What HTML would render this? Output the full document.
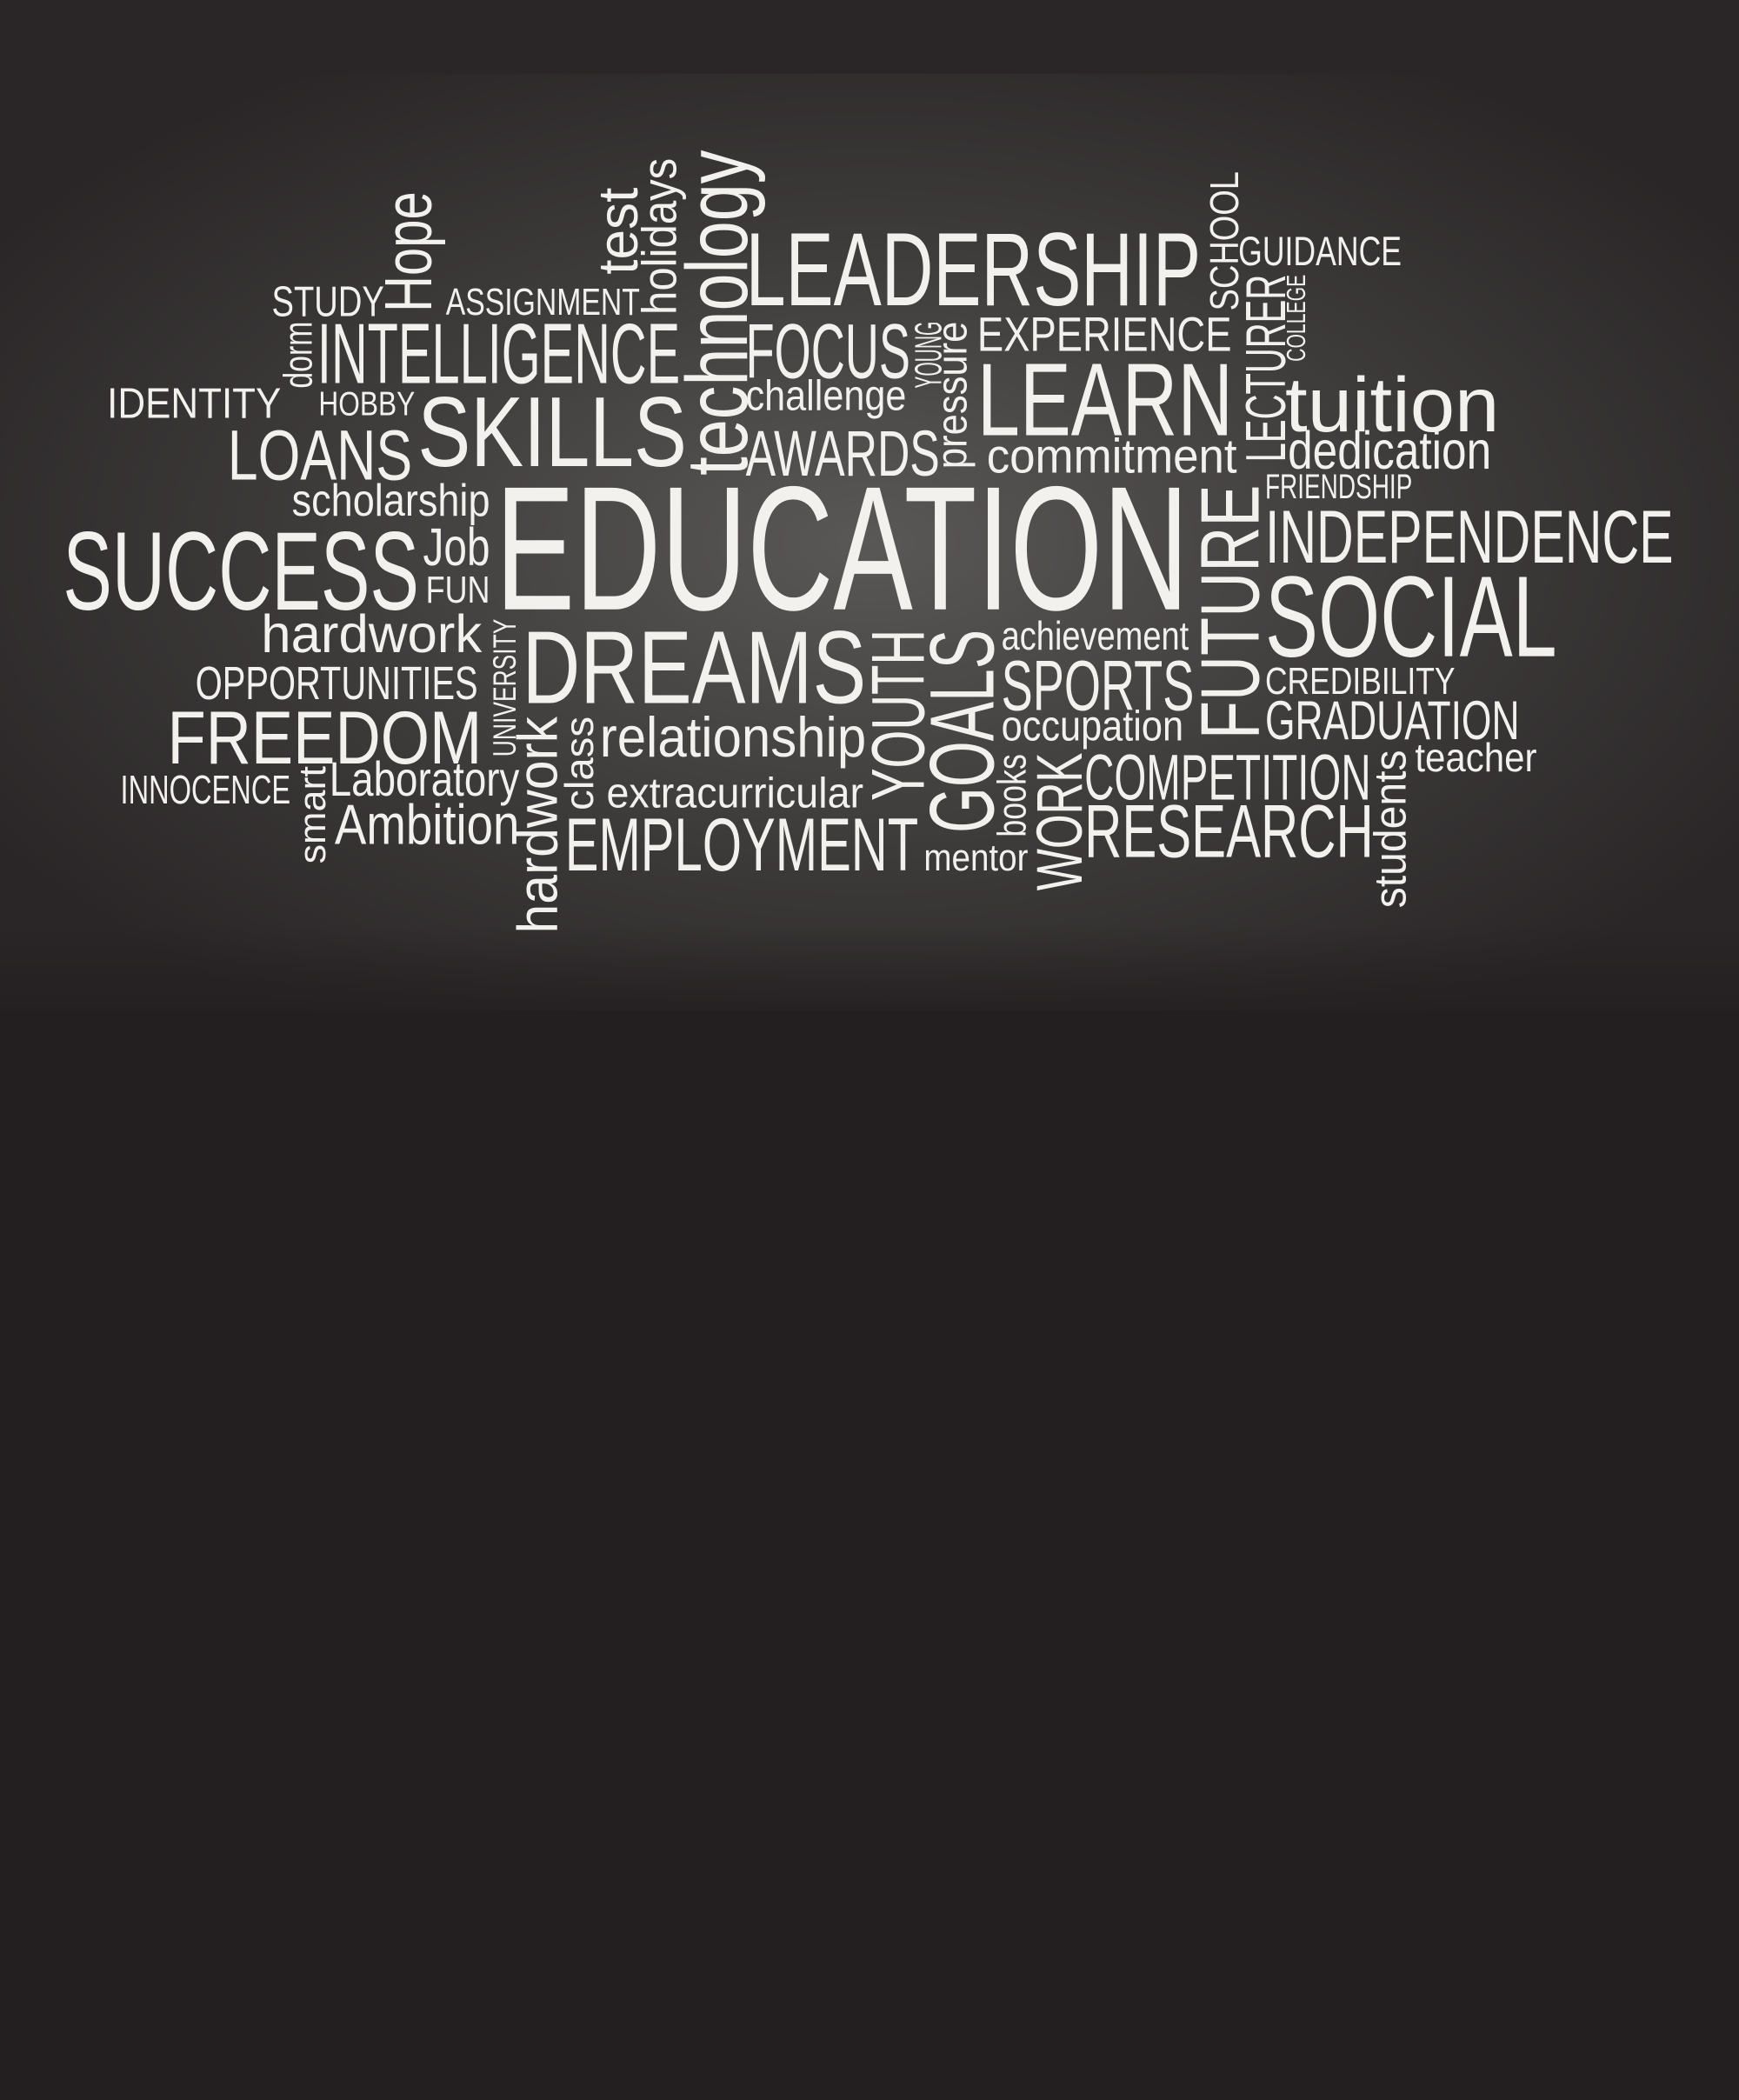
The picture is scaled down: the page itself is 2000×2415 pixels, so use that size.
<!DOCTYPE html>
<html><head><meta charset="utf-8"><style>
html,body{margin:0;padding:0;background:#231f20;}
#board{width:2000px;height:2415px;display:block;}
text{font-family:"Liberation Sans Narrow","Liberation Sans",sans-serif;fill:#f3f1ee;}
</style></head><body>
<svg id="board" viewBox="0 0 1299 1568" preserveAspectRatio="none" xmlns="http://www.w3.org/2000/svg">
<defs>
<radialGradient id="glow" cx="0.5" cy="0.5" r="0.6">
<stop offset="0" stop-color="#5a5757"/><stop offset="0.55" stop-color="#3d3a3a"/><stop offset="1" stop-color="#2a2627"/>
</radialGradient>
<linearGradient id="fade" x1="0" y1="0" x2="0" y2="1">
<stop offset="0" stop-color="#231f20" stop-opacity="0"/><stop offset="1" stop-color="#231f20" stop-opacity="1"/>
</linearGradient>
</defs>
<rect x="0" y="0" width="1299" height="1568" fill="#231f20"/>
<rect x="0" y="0" width="1299" height="60" fill="#2a2627"/>
<rect x="0" y="55" width="1299" height="700" fill="url(#glow)"/>
<rect x="0" y="690" width="1299" height="80" fill="url(#fade)"/>
<g id="words"></g>
</svg>
<script>
// horizontal words: [text, x, baseline, fontSize, length]
const hWords = [
["LEADERSHIP",557,228,78,340],["GUIDANCE",925,198,31,122],["STUDY",203,236,32,84],
["ASSIGNMENT",333,235,28,145],["INTELLIGENCE",237,286,64,271],["FOCUS",557,282,58,123],
["EXPERIENCE",730,262,36,190],["IDENTITY",80,312,32,130],["HOBBY",238,310,25,72],
["SKILLS",312,348,74,201],["challenge",557,306,32,120],["LEARN",730,325,77,191],
["tuition",960,322,58,160],["LOANS",170,358,53,138],["AWARDS",557,355,48,145],
["commitment",737,353,36,187],["dedication",962,350,40,152],["scholarship",218,385,34,148],
["FRIENDSHIP",945,372,26,110],["EDUCATION",370,455,132,518],["INDEPENDENCE",945,420,56,305],
["SUCCESS",47,455,83,266],["Job",316,422,40,50],["FUN",318,450,28,48],
["SOCIAL",945,490,86,218],["hardwork",195,487,40,165],["achievement",748,485,30,140],
["DREAMS",390,525,77,257],["OPPORTUNITIES",146,522,35,211],["SPORTS",748,530,53,144],
["CREDIBILITY",945,518,28,142],["FREEDOM",125,570,56,235],["relationship",448,565,42,199],
["occupation",748,553,32,136],["GRADUATION",945,552,41,190],["INNOCENCE",90,600,30,127],
["Laboratory",246,594,36,142],["extracurricular",453,603,32,192],["COMPETITION",810,597,48,214],
["teacher",1057,576,30,91],["Ambition",250,630,42,138],["EMPLOYMENT",422,650,56,264],
["RESEARCH",810,640,56,216],["mentor",690,650,28,78]
];
// vertical words (read bottom to top): [text, baselineX, bottomY, fontSize, length]
const vWords = [
["Hope",322,233,50,90],["test",476,205,42,65],["holidays",505,235,36,117],
["technology",558,355,65,243],["dorm",233,290,30,50],["YOUNG",703,290,28,50],
["pressure",722,350,32,110],["SCHOOL",925,232,30,104],["LECTURER",960,345,42,140],
["COLLEGE",975,270,20,65],["FUTURE",940,552,62,190],["UNIVERSITY",385,565,24,103],
["hardwork",416,697,42,162],["class",443,605,30,70],["smart",243,645,28,73],
["YOUTH",690,598,56,128],["GOALS",742,622,68,152],["books",766,625,30,62],
["WORK",808,665,48,103],["students",1050,678,34,118]
];
const NS="http://www.w3.org/2000/svg";
const g=document.getElementById('words');
function slug(s){return s.toLowerCase().replace(/[^a-z0-9]+/g,'-');}
hWords.forEach(w=>{
  const t=document.createElementNS(NS,'text');
  t.setAttribute('x',w[1]);t.setAttribute('y',w[2]);
  t.setAttribute('font-size',w[3]);t.setAttribute('textLength',w[4]);
  t.setAttribute('lengthAdjust','spacingAndGlyphs');
  
  
  t.textContent=w[0];g.appendChild(t);
});
vWords.forEach(w=>{
  const t=document.createElementNS(NS,'text');
  t.setAttribute('x',w[1]);t.setAttribute('y',w[2]);
  t.setAttribute('font-size',w[3]);t.setAttribute('textLength',w[4]);
  t.setAttribute('lengthAdjust','spacingAndGlyphs');
  t.setAttribute('transform','rotate(-90 '+w[1]+' '+w[2]+')');
  
  
  t.textContent=w[0];g.appendChild(t);
});
</script>
</body></html>
